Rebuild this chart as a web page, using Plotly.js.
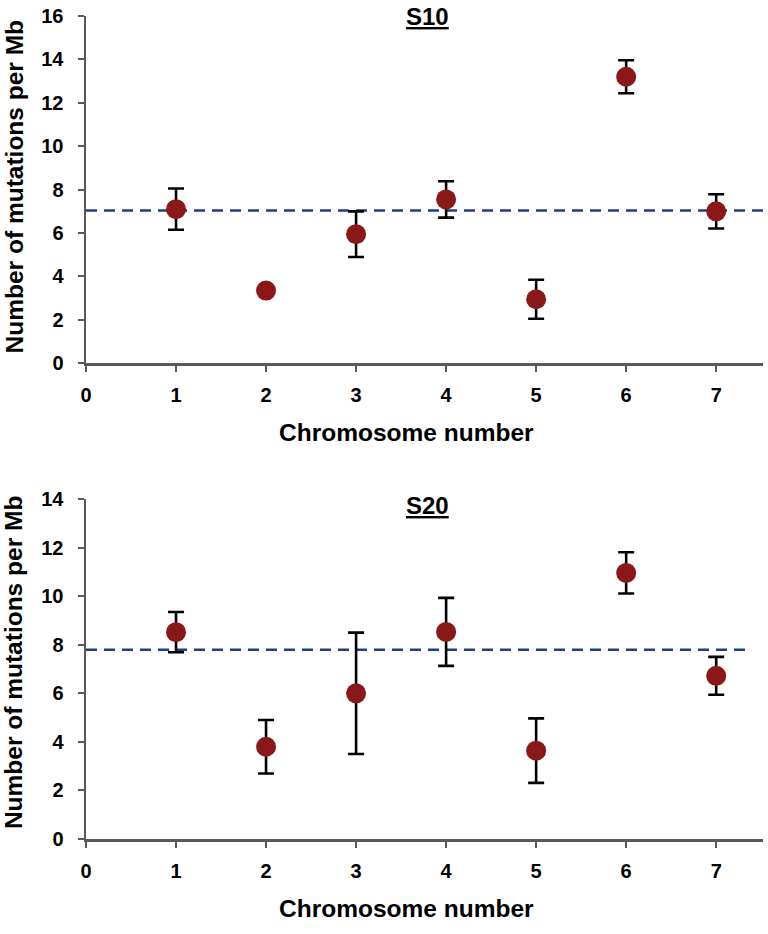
<!DOCTYPE html>
<html>
<head>
<meta charset="utf-8">
<script src="https://cdn.plot.ly/plotly-3.0.1.min.js"></script>
<style>
  html, body { margin: 0; padding: 0; background: #fff; }
  #chart { width: 768px; height: 934px; }
</style>
</head>
<body>
<div id="chart"></div>
<script>
// chromosome numbers on the x axis
var chromosomes = [1, 2, 3, 4, 5, 6, 7];

// S10 sample: mutations per Mb and error
var s10Values = [7.1, 3.35, 5.95, 7.55, 2.95, 13.2, 7.0];
var s10Errors = [0.95, 0, 1.05, 0.84, 0.9, 0.76, 0.79];
var s10Average = 7.04;

// S20 sample
var s20Values = [8.52, 3.8, 6.0, 8.53, 3.64, 10.96, 6.72];
var s20Errors = [0.83, 1.1, 2.5, 1.4, 1.33, 0.85, 0.78];
var s20Average = 7.8;

var xTicks = [0, 1, 2, 3, 4, 5, 6, 7];

var FONT = 'Liberation Sans, Arial, sans-serif';
var DOT_COLOR = '#8b1818';
var LINE_COLOR = '#1f3d88';
var AXIS_COLOR = '#595959';

function pointsTrace(values, errors, xa, ya) {
  return {
    x: chromosomes,
    y: values,
    xaxis: xa,
    yaxis: ya,
    type: 'scatter',
    mode: 'markers',
    marker: {color: DOT_COLOR, size: 20},
    error_y: {type: 'data', array: errors, visible: true,
              color: '#000', thickness: 2.6, width: 8},
    showlegend: false,
    hoverinfo: 'x+y'
  };
}

function averageTrace(avg, xEnd, xa, ya) {
  return {
    x: [0, xEnd],
    y: [avg, avg],
    xaxis: xa,
    yaxis: ya,
    type: 'scatter',
    mode: 'lines',
    line: {color: LINE_COLOR, width: 2.5, dash: '11px,7px'},
    showlegend: false,
    hoverinfo: 'skip'
  };
}

// dashed line first so the dots sit on top of it
var traces = [
  averageTrace(s10Average, 7.52, 'x', 'y'),
  pointsTrace(s10Values, s10Errors, 'x', 'y'),
  averageTrace(s20Average, 7.33, 'x2', 'y2'),
  pointsTrace(s20Values, s20Errors, 'x2', 'y2')
];

function xAxis(anchor) {
  return {
    domain: [0, 1],
    anchor: anchor,
    range: [0, 7.52],
    tickvals: xTicks,
    ticks: 'outside', ticklen: 6, tickwidth: 2, tickcolor: AXIS_COLOR,
    ticklabelstandoff: 6,
    showline: true, linecolor: AXIS_COLOR, linewidth: 2.5,
    showgrid: false, zeroline: false,
    tickfont: {family: FONT, size: 20, color: '#000', weight: 'bold'}
  };
}

function yAxis(anchor, domain, max) {
  return {
    domain: domain,
    anchor: anchor,
    range: [0, max],
    dtick: 2,
    ticks: 'outside', ticklen: 6, tickwidth: 2, tickcolor: AXIS_COLOR,
    ticklabelstandoff: 10,
    showline: true, linecolor: AXIS_COLOR, linewidth: 2.5,
    showgrid: false, zeroline: false,
    tickfont: {family: FONT, size: 20, color: '#000', weight: 'bold'}
  };
}

var titleFont = {family: FONT, size: 24.5, color: '#000'};
var panelFont = {family: FONT, size: 24, color: '#000'};

function label(text, x, y, angle, font) {
  return {
    text: text, x: x, y: y, xref: 'paper', yref: 'paper',
    xanchor: 'center', yanchor: 'middle',
    textangle: angle || 0,
    showarrow: false, font: font
  };
}

var layout = {
  width: 768,
  height: 934,
  margin: {l: 86, r: 5, t: 16, b: 95},
  paper_bgcolor: '#fff',
  plot_bgcolor: '#fff',
  font: {family: FONT, color: '#000'},
  xaxis: xAxis('y'),
  yaxis: yAxis('x', [0.578, 1], 16),
  xaxis2: xAxis('y2'),
  yaxis2: yAxis('x2', [0, 0.413], 14),
  annotations: [
    label('<b><u>S10</u></b>', 0.505, 1.0, 0, panelFont),
    label('<b><u>S20</u></b>', 0.505, 0.405, 0, panelFont),
    label('<b>Chromosome number</b>', 0.473, 0.494, 0, titleFont),
    label('<b>Chromosome number</b>', 0.473, -0.084, 0, titleFont),
    label('<b>Number of mutations per Mb</b>', -0.106, 0.792, -90, titleFont),
    label('<b>Number of mutations per Mb</b>', -0.106, 0.214, -90, titleFont)
  ]
};

Plotly.newPlot('chart', traces, layout, {displayModeBar: false, staticPlot: true});
</script>
</body>
</html>
